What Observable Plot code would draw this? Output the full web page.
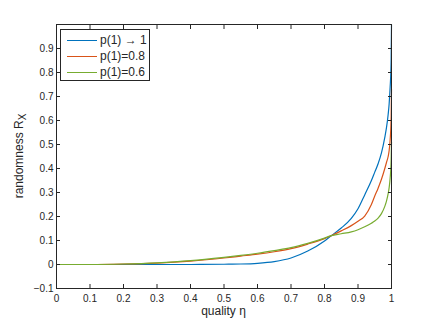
<!DOCTYPE html>
<html><head><meta charset="utf-8">
<script src="https://cdn.jsdelivr.net/npm/d3@7"></script>
<script src="https://cdn.jsdelivr.net/npm/@observablehq/plot@0.6"></script>
<style>
body{margin:0;background:#fff;}
#wrap{position:relative;width:432px;height:325px;font-family:"Liberation Sans",Arial,Helvetica,sans-serif;color:#262626;}
#legend{position:absolute;left:60px;top:29px;width:88px;height:48px;border:1px solid #262626;background:#fff;padding-top:2px;box-sizing:content-box;}
.row{display:flex;align-items:center;height:16px;font-size:12px;line-height:16px;white-space:nowrap;}
.sw{width:30px;height:0;margin-left:6px;margin-right:3px;border-top-style:solid;border-top-width:1.4px;}
</style>
</head><body>
<div id="wrap"></div>
<script>
// quality eta
const eta  = [0, 0.1, 0.2, 0.3, 0.4, 0.5, 0.55, 0.6, 0.65, 0.7, 0.75, 0.8, 0.82, 0.85, 0.88, 0.9, 0.92, 0.94, 0.95, 0.96, 0.97, 0.98, 0.985, 0.99, 0.993, 0.996, 0.998, 0.999, 1];
// randomness R_X for each series
const pTo1 = [0, 0, 0, 0, 0, 0.001, 0.002, 0.005, 0.012, 0.027, 0.056, 0.098, 0.12, 0.152, 0.192, 0.232, 0.29, 0.35, 0.385, 0.42, 0.465, 0.53, 0.57, 0.625, 0.67, 0.74, 0.8, 0.86, 1.0];
const p08  = [0, 0, 0.002, 0.006, 0.014, 0.027, 0.035, 0.043, 0.053, 0.066, 0.085, 0.108, 0.12, 0.14, 0.162, 0.18, 0.202, 0.25, 0.285, 0.318, 0.355, 0.40, 0.425, 0.45, 0.475, 0.52, 0.57, 0.62, 0.73];
const p06  = [0, 0, 0.002, 0.007, 0.016, 0.03, 0.038, 0.047, 0.058, 0.07, 0.088, 0.11, 0.12, 0.128, 0.136, 0.145, 0.157, 0.172, 0.181, 0.193, 0.212, 0.242, 0.264, 0.295, 0.32, 0.36, 0.4, 0.44, 0.51];
const seriesNames  = ["p(1) \u2192 1", "p(1)=0.8", "p(1)=0.6"];
const seriesColors = ["#0072BD", "#D95319", "#77AC30"];
const xTicks = [0, 0.1, 0.2, 0.3, 0.4, 0.5, 0.6, 0.7, 0.8, 0.9, 1];
const yTicks = [-0.1, 0, 0.1, 0.2, 0.3, 0.4, 0.5, 0.6, 0.7, 0.8, 0.9];

const seriesValues = [pTo1, p08, p06];
const rows = seriesValues.flatMap((vals, s) => eta.map((e, i) => ({eta: e, r: vals[i], series: seriesNames[s]})));
const fmt = d3.format("~g");
const axisColor = "#262626";

const plot = Plot.plot({
  width: 432, height: 325,
  marginLeft: 56, marginRight: 41, marginTop: 24, marginBottom: 37,
  x: {domain: [0, 1]},
  y: {domain: [-0.1, 1]},
  color: {domain: seriesNames, range: seriesColors},
  style: {fontFamily: "'Liberation Sans', Arial, Helvetica, sans-serif", fontSize: "10px", color: axisColor, background: "#fff", overflow: "visible"},
  marks: [
    Plot.line(rows, {x: "eta", y: "r", z: "series", stroke: "series", strokeWidth: 1.2, curve: "monotone-x"}),
    Plot.frame({stroke: axisColor, strokeWidth: 1}),
    Plot.axisX(xTicks, {anchor: "bottom", tickSize: 0, tickPadding: 6, tickFormat: fmt, label: null}),
    Plot.axisX(xTicks, {anchor: "bottom", tickSize: -4, tickFormat: () => "", label: null}),
    Plot.axisX(xTicks, {anchor: "top", tickSize: -4, tickFormat: () => "", label: null}),
    Plot.axisY(yTicks, {anchor: "left", tickSize: 0, tickPadding: 3, tickFormat: fmt, label: null}),
    Plot.axisY(yTicks, {anchor: "left", tickSize: -4, tickFormat: () => "", label: null}),
    Plot.axisY(yTicks, {anchor: "right", tickSize: -4, tickFormat: () => "", label: null})
  ]
});

const svg = d3.select(plot);
const xs = plot.scale("x"), ys = plot.scale("y");
const xMid = (xs.range[0] + xs.range[1]) / 2;
const yMid = (ys.range[0] + ys.range[1]) / 2;
svg.append("text")
  .attr("x", xMid).attr("y", 315)
  .attr("text-anchor", "middle")
  .attr("font-size", 12).attr("fill", axisColor)
  .text("quality \u03B7");
const yl = svg.append("text")
  .attr("transform", `translate(23,${yMid}) rotate(-90)`)
  .attr("text-anchor", "middle")
  .attr("font-size", 12).attr("fill", axisColor);
yl.append("tspan").text("randomness R");
yl.append("tspan").attr("dy", 3).attr("font-size", 10).text("X");

const wrap = document.getElementById("wrap");
wrap.appendChild(plot);
const legend = document.createElement("div");
legend.id = "legend";
seriesNames.forEach((name, i) => {
  const row = document.createElement("div");
  row.className = "row";
  const sw = document.createElement("div");
  sw.className = "sw";
  sw.style.borderTopColor = seriesColors[i];
  const t = document.createElement("span");
  t.textContent = name;
  row.appendChild(sw); row.appendChild(t);
  legend.appendChild(row);
});
wrap.appendChild(legend);
</script>
</body></html>
